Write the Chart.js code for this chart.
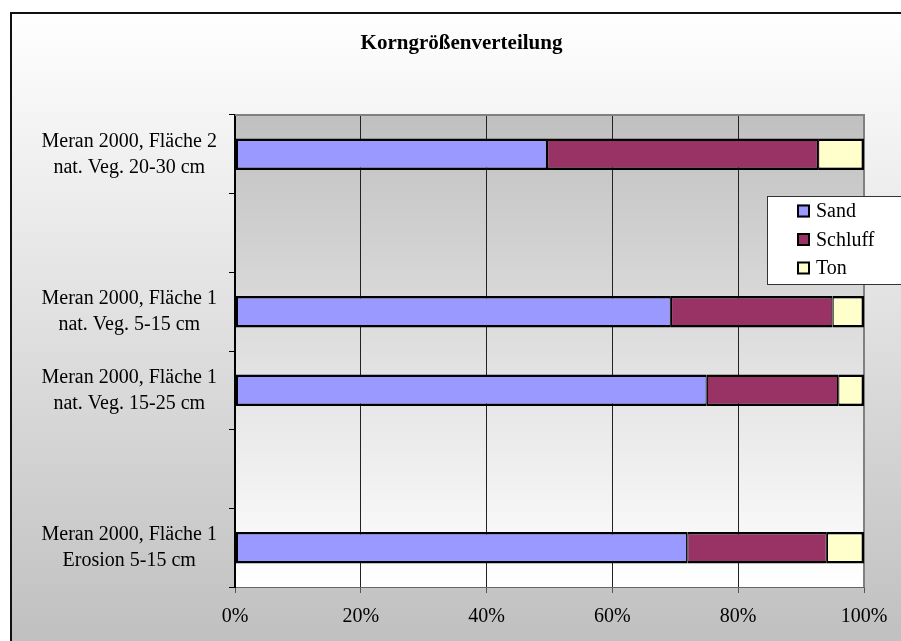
<!DOCTYPE html>
<html>
<head>
<meta charset="utf-8">
<script src="https://cdn.jsdelivr.net/npm/chart.js@4/dist/chart.umd.min.js"></script>
<style>
  html, body { margin: 0; padding: 0; background: #fff; overflow: hidden; }
  #wrap { width: 901px; height: 641px; position: relative; }
</style>
</head>
<body>
<div id="wrap"><canvas id="chart" width="901" height="641"></canvas></div>
<script>
// Soil samples (top to bottom); empty strings keep the blank rows
const categories = [
  ['Meran 2000, Fläche 2', 'nat. Veg. 20-30 cm'],
  '',
  ['Meran 2000, Fläche 1', 'nat. Veg. 5-15 cm'],
  ['Meran 2000, Fläche 1', 'nat. Veg. 15-25 cm'],
  '',
  ['Meran 2000, Fläche 1', 'Erosion 5-15 cm']
];

// Grain size fractions in percent
const sand    = [49.6, null, 69.3, 75.0, null, 71.9];
const schluff = [43.1, null, 25.7, 20.9, null, 22.2];
const ton     = [7.3,  null, 5.0,  4.1,  null, 5.9];

const seriesNames = ['Sand', 'Schluff', 'Ton'];
const xTickValues = [0, 20, 40, 60, 80, 100];
const chartTitle = 'Korngrößenverteilung';

const FONT = 'Liberation Serif';

// Backgrounds: outer frame fades white -> grey, plot area grey -> white
const backdrop = {
  id: 'backdrop',
  beforeDraw(chart) {
    const c = chart.ctx;
    const a = chart.chartArea;
    c.save();
    const g1 = c.createLinearGradient(0, 12, 0, 641);
    g1.addColorStop(0, '#ffffff');
    g1.addColorStop(1, '#c0c0c0');
    c.fillStyle = g1;
    c.fillRect(10, 12, 901, 641);
    c.strokeStyle = '#111';
    c.lineWidth = 2;
    c.strokeRect(11, 13, 920, 660);

    const g2 = c.createLinearGradient(0, a.top, 0, a.bottom);
    g2.addColorStop(0, '#c0c0c0');
    g2.addColorStop(1, '#ffffff');
    c.fillStyle = g2;
    c.fillRect(a.left, a.top, a.right - a.left, a.bottom - a.top);

    // chart heading, centred on the frame
    c.fillStyle = '#000';
    c.font = 'bold 21px "' + FONT + '"';
    c.textAlign = 'center';
    c.textBaseline = 'middle';
    c.fillText(chartTitle, 461.5, 44);
    c.restore();
  },
  beforeDatasetsDraw(chart) {
    const c = chart.ctx;
    const a = chart.chartArea;
    c.save();
    c.strokeStyle = '#808080';
    c.lineWidth = 2;
    c.beginPath();
    c.moveTo(a.left, a.top);
    c.lineTo(a.right, a.top);
    c.lineTo(a.right, a.bottom);
    c.stroke();
    c.restore();
  }
};

// Boxed legend sitting over the right edge of the plot
const boxLegend = {
  id: 'boxLegend',
  afterDraw(chart) {
    const c = chart.ctx;
    c.save();
    c.fillStyle = '#ffffff';
    c.fillRect(767.5, 196.5, 160, 88);
    c.strokeStyle = '#333';
    c.lineWidth = 1;
    c.strokeRect(767.5, 196.5, 160, 88);
    c.font = '20px "' + FONT + '"';
    c.textBaseline = 'middle';
    c.textAlign = 'left';
    chart.data.datasets.forEach((ds, i) => {
      const cy = 211 + i * 28.5;
      c.fillStyle = ds.backgroundColor;
      c.fillRect(797, cy - 6.5, 13, 13);
      c.strokeStyle = '#000';
      c.lineWidth = 2;
      c.strokeRect(798, cy - 5.5, 11, 11);
      c.fillStyle = '#000';
      c.fillText(ds.label, 816, cy + 1);
    });
    c.restore();
  }
};

const colors = ['#9999ff', '#993366', '#ffffcc'];
const borders = [
  { top: 2.5, bottom: 2.5, left: 2.5, right: 1.2 },
  { top: 2.5, bottom: 2.5, left: 1.2, right: 1.2 },
  { top: 2.5, bottom: 2.5, left: 1.2, right: 2.5 }
];
const values = [sand, schluff, ton];

new Chart(document.getElementById('chart'), {
  type: 'bar',
  data: {
    labels: categories,
    datasets: seriesNames.map((name, i) => ({
      label: name,
      data: values[i],
      backgroundColor: colors[i],
      borderColor: '#000',
      borderWidth: borders[i],
      borderSkipped: false,
      barPercentage: 0.4,
      categoryPercentage: 1.0
    }))
  },
  options: {
    responsive: false,
    animation: false,
    indexAxis: 'y',
    layout: { padding: { left: 20, right: 37, top: 115, bottom: 12 } },
    plugins: {
      legend: { display: false },
      tooltip: { enabled: false },
      title: { display: false }
    },
    scales: {
      x: {
        type: 'linear',
        stacked: true,
        min: 0,
        max: 100,
        afterBuildTicks(scale) {
          scale.ticks = xTickValues.map(v => ({ value: v }));
        },
        afterFit(scale) { scale.height = 42; },
        ticks: {
          callback: v => v + '%',
          color: '#000',
          padding: 12,
          font: { family: FONT, size: 20, lineHeight: 1.2 }
        },
        grid: {
          color: ctx => (ctx.tick && ctx.tick.value === 100) ? '#808080' : '#222',
          lineWidth: 1,
          drawTicks: true,
          tickLength: 6,
          tickColor: '#555'
        },
        border: { display: true, color: '#666', width: 1 }
      },
      y: {
        type: 'category',
        stacked: true,
        offset: true,
        afterFit(scale) { scale.width = 215; },
        ticks: {
          crossAlign: 'center',
          padding: 12,
          color: '#000',
          font: { family: FONT, size: 20, lineHeight: 1.3 }
        },
        grid: {
          offset: true,
          drawOnChartArea: false,
          drawTicks: true,
          tickLength: 6,
          color: '#000'
        },
        border: { display: true, color: '#000', width: 2 }
      }
    }
  },
  plugins: [backdrop, boxLegend]
});
</script>
</body>
</html>
